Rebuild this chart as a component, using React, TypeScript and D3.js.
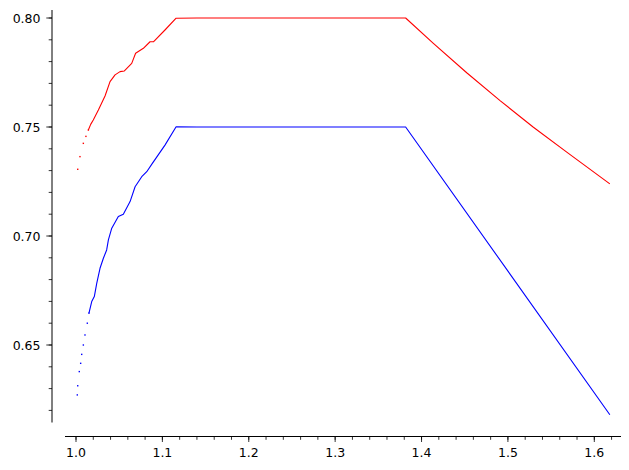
import React from "react";
import * as d3 from "d3";

const redX = [1.002, 1.0046, 1.0085, 1.0115, 1.0143, 1.017, 1.020, 1.0259, 1.0336, 1.0394, 1.0452, 1.051, 1.056, 1.0645, 1.069, 1.078, 1.0857, 1.0896, 1.103, 1.1159, 1.14, 1.2, 1.3, 1.3816, 1.4137, 1.4523, 1.4909, 1.5295, 1.5681, 1.618];
const redY = [0.7306, 0.7364, 0.7425, 0.7457, 0.7486, 0.7512, 0.7532, 0.7578, 0.7642, 0.7708, 0.7739, 0.7754, 0.7757, 0.7792, 0.7838, 0.7861, 0.7891, 0.7891, 0.7945, 0.7999, 0.8, 0.8, 0.8, 0.8, 0.7884, 0.7749, 0.7621, 0.7499, 0.7385, 0.7239];

const blueX = [1.0015, 1.002, 1.0038, 1.0054, 1.0066, 1.0085, 1.0104, 1.0131, 1.015, 1.0182, 1.0212, 1.024, 1.0278, 1.0317, 1.0355, 1.0375, 1.0414, 1.049, 1.0548, 1.0626, 1.0684, 1.0761, 1.0819, 1.0884, 1.103, 1.1159, 1.14, 1.2, 1.3, 1.3816, 1.618];
const blueY = [0.6271, 0.6313, 0.6378, 0.6416, 0.6457, 0.65, 0.6546, 0.66, 0.6646, 0.6699, 0.6722, 0.6783, 0.6852, 0.6898, 0.6936, 0.6982, 0.7036, 0.7089, 0.71, 0.7158, 0.7226, 0.7272, 0.7295, 0.7333, 0.7417, 0.7501, 0.75, 0.75, 0.75, 0.75, 0.618];

const xTicks = [1.0, 1.1, 1.2, 1.3, 1.4, 1.5, 1.6];
const yTicks = [0.65, 0.7, 0.75, 0.8];
const dotLimit = 1.016;

export default function App() {
  const W = 629, H = 470;
  const x = d3.scaleLinear().domain([1, 1.6]).range([76, 594.3]);
  const y = d3.scaleLinear().domain([0.65, 0.8]).range([345, 18]);
  const xAxisY = 436.5;
  const yAxisX = 52;
  const xMinor = d3.range(0, 32).map((i) => 1 + i * 0.02).filter((v) => x(v) <= 621);
  const yMinor = d3.range(0, 19).map((i) => 0.62 + i * 0.01);
  const line = d3.line<[number, number]>().x((d) => x(d[0])).y((d) => y(d[1]));
  const series = [
    { xs: redX, ys: redY, color: "#ff0000" },
    { xs: blueX, ys: blueY, color: "#0000ff" },
  ];
  const font = "DejaVu Sans, sans-serif";
  return (
    <svg width={W} height={H} style={{ position: "absolute", left: 0, top: 0, background: "#fff" }}>
      <rect x={0} y={0} width={W} height={H} fill="#fff" />
      {series.map((s, si) => {
        const pts: [number, number][] = s.xs.map((v, i) => [v, s.ys[i]]);
        const linePts = pts.filter((p) => p[0] >= dotLimit - 0.002);
        const dots = pts.filter((p) => p[0] < dotLimit);
        return (
          <g key={si}>
            <path d={line(linePts) || ""} fill="none" stroke={s.color} strokeWidth={1.1} strokeLinejoin="round" />
            {dots.map((p, i) => (
              <rect key={i} x={x(p[0]) - 0.7} y={y(p[1]) - 0.7} width={1.4} height={1.4} fill={s.color} />
            ))}
          </g>
        );
      })}
      <line x1={65} x2={621} y1={xAxisY} y2={xAxisY} stroke="#000" strokeWidth={1} />
      <line x1={yAxisX} x2={yAxisX} y1={10} y2={422.5} stroke="#000" strokeWidth={1} />
      {xMinor.map((v, i) => (
        <line key={"xm" + i} x1={x(v)} x2={x(v)} y1={xAxisY} y2={xAxisY + 3.3} stroke="#000" strokeWidth={0.8} />
      ))}
      {xTicks.map((v, i) => (
        <g key={"xt" + i}>
          <line x1={x(v)} x2={x(v)} y1={xAxisY} y2={xAxisY + 5.5} stroke="#000" strokeWidth={0.8} />
          <text x={x(v)} y={457.3} textAnchor="middle" fontFamily={font} fontSize={12.5}>
            {v.toFixed(1)}
          </text>
        </g>
      ))}
      {yMinor.map((v, i) => (
        <line key={"ym" + i} x1={yAxisX - 3.3} x2={yAxisX} y1={y(v)} y2={y(v)} stroke="#000" strokeWidth={0.8} />
      ))}
      {yTicks.map((v, i) => (
        <g key={"yt" + i}>
          <line x1={yAxisX - 5.7} x2={yAxisX} y1={y(v)} y2={y(v)} stroke="#000" strokeWidth={0.8} />
          <text x={40.5} y={y(v) + 4.5} textAnchor="end" fontFamily={font} fontSize={12.5}>
            {v.toFixed(2)}
          </text>
        </g>
      ))}
    </svg>
  );
}
